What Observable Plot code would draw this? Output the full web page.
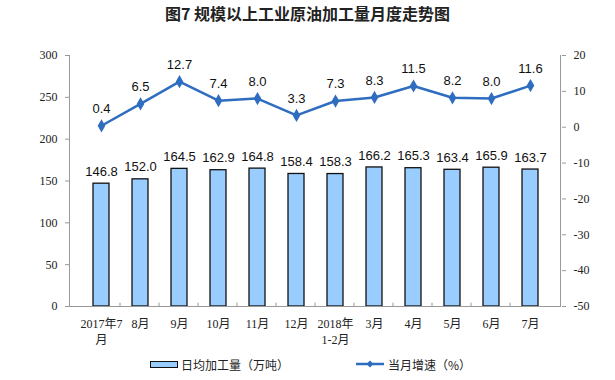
<!DOCTYPE html>
<html>
<head>
<meta charset="utf-8">
<script src="https://cdn.jsdelivr.net/npm/d3@7"></script>
<script src="https://cdn.jsdelivr.net/npm/@observablehq/plot@0.6"></script>
<style>
  body { margin: 0; background: #fff; width: 615px; height: 380px; overflow: hidden; }
  #title { height: 30px; line-height: 26px; text-align: center; font-family: "Noto Sans CJK SC", sans-serif; font-size: 16px; font-weight: bold; color: #222; }
  #legend { position: absolute; top: 354px; left: 0; width: 615px; height: 20px; font-family: "Noto Sans CJK SC", sans-serif; font-size: 12px; color: #222; }
  .item { position: absolute; top: 0; display: flex; align-items: center; height: 20px; }
  .sw-bar { width: 26px; height: 5px; background: #99CCFF; border: 1.5px solid #111; margin-right: 3px; }
</style>
</head>
<body>
<div id="title">图7 规模以上工业原油加工量月度走势图</div>
<div id="chart"></div>
<div id="legend">
  <div class="item" style="left:150px"><div class="sw-bar"></div><span>日均加工量（万吨）</span></div>
  <div class="item" style="left:356px"><svg width="30" height="10" style="margin-right:2px"><line x1="0" y1="5" x2="28" y2="5" stroke="#2E6DBF" stroke-width="2.5"/><path d="M14,1.5L17.5,5L14,8.5L10.5,5Z" fill="#2E6DBF"/></svg><span>当月增速（%）</span></div>
</div>
<script>
const months = ["2017年7\n月", "8月", "9月", "10月", "11月", "12月", "2018年\n1-2月", "3月", "4月", "5月", "6月", "7月"];
const dailyOutput = [146.8, 152.0, 164.5, 162.9, 164.8, 158.4, 158.3, 166.2, 165.3, 163.4, 165.9, 163.7];
const growth = [0.4, 6.5, 12.7, 7.4, 8.0, 3.3, 7.3, 8.3, 11.5, 8.2, 8.0, 11.6];
const leftTicks = [0, 50, 100, 150, 200, 250, 300];
const rightTicks = [20, 10, 0, -10, -20, -30, -40, -50];

const rMin = -50, rMax = 20, lMax = 300;
const toLeft = v => (v - rMin) * lMax / (rMax - rMin);
const fromLeft = y => y * (rMax - rMin) / lMax + rMin;

const data = months.map((m, i) => ({m, bar: dailyOutput[i], g: growth[i], gy: toLeft(growth[i])}));

const lineColor = "#2E6DBF";
const serif = "'Liberation Serif', 'Noto Sans CJK SC', serif";
const sans = "'Liberation Sans', Arial, sans-serif";

// vertical axis lines at both edges of the plot frame
function sideLines(index, scales, values, dim) {
  const g = d3.create("svg:g").attr("stroke", "#999").attr("stroke-width", 1);
  const y1 = dim.marginTop, y2 = dim.height - dim.marginBottom;
  const xl = dim.marginLeft + 0.5, xr = dim.width - dim.marginRight - 0.5;
  g.append("line").attr("x1", xl).attr("x2", xl).attr("y1", y1).attr("y2", y2);
  g.append("line").attr("x1", xr).attr("x2", xr).attr("y1", y1).attr("y2", y2);
  return g.node();
}

const chart = Plot.plot({
  width: 615,
  height: 324,
  marginTop: 25,
  marginBottom: 48,
  marginLeft: 69,
  marginRight: 54,
  style: {fontFamily: serif, fontSize: "12px", color: "#222", background: "#fff"},
  x: {domain: months, padding: 0.59, align: 0.5, label: null},
  y: {domain: [0, 300], label: null},
  marks: [
    Plot.barY(data, {x: "m", y: "bar", fill: "#99CCFF", stroke: "#111", strokeWidth: 1.3}),
    Plot.text(data, {x: "m", y: "bar", text: d => d.bar.toFixed(1), dy: -12, fontFamily: sans, fontSize: 13, fill: "#111"}),
    Plot.line(data, {x: "m", y: "gy", stroke: lineColor, strokeWidth: 2.5}),
    Plot.dot(data, {x: "m", y: "gy", symbol: "diamond", r: 4, fill: lineColor, stroke: null}),
    Plot.text(data, {x: "m", y: "gy", text: d => d.g.toFixed(1), dy: -17, fontFamily: sans, fontSize: 13, fill: "#111"}),
    Plot.ruleX(data.slice(1), {x: "m", y1: 0, y2: 4, dx: -20.5, stroke: "#999", strokeWidth: 1}),
    Plot.axisY({ticks: leftTicks, anchor: "left", tickSize: 4, tickPadding: 8, fontSize: 12, stroke: "#999", label: null}),
    Plot.axisY({ticks: rightTicks.map(toLeft), anchor: "right", tickFormat: y => String(Math.round(fromLeft(y))), tickSize: 4, tickPadding: 8, fontSize: 12, stroke: "#999", label: null}),
    Plot.axisX({tickSize: 0, tickPadding: 10, fontSize: 12, lineHeight: 1.35, label: null}),
    Plot.ruleY([0], {stroke: "#999", strokeWidth: 1}),
    sideLines
  ]
});
document.getElementById("chart").appendChild(chart);
</script>
</body>
</html>
